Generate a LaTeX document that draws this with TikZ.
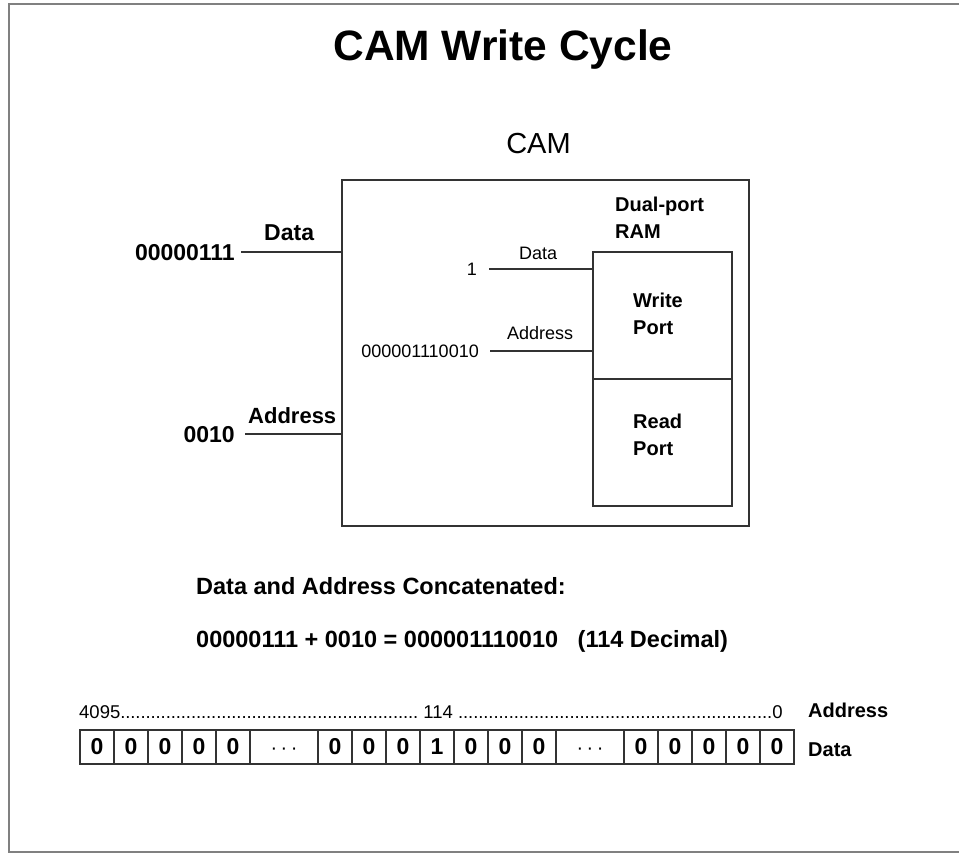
\documentclass[tikz,border=0pt]{standalone}
\usepackage{fontspec}
\setmainfont{Liberation Sans}
\definecolor{wirecol}{HTML}{333333}
\definecolor{framecol}{HTML}{808080}
% three centred dots, given the height of a digit so they sit mid-cell
\newcommand\celldots{\vphantom{0}{\fontsize{20}{24}\selectfont\mdseries·\kern3.5pt·\kern3.5pt·}}
\newcommand\dotrun[1]{\xleaders\hbox to 5pt{\hss.\hss}\hskip 0pt plus #1fil\relax}
\begin{document}
\begin{tikzpicture}[x=1pt,y=-1pt,
  wire/.style={draw=wirecol, line width=1.4pt},
  box/.style={draw=wirecol, line width=1.4pt, inner sep=0pt, outer sep=0pt},
  cell/.style={draw=wirecol, line width=1.2pt, inner sep=0pt, outer sep=0pt,
    minimum height=34pt, font=\fontsize{23}{27}\selectfont\bfseries},
  reg/.style={inner sep=0pt, font=\fontsize{18}{22}\selectfont},
  bold/.style={inner sep=0pt, font=\fontsize{23}{27}\selectfont\bfseries},
  hdr/.style={inner sep=0pt, font=\fontsize{20}{24}\selectfont\bfseries},
  portlbl/.style={inner sep=0pt, align=left, font=\fontsize{20}{27}\selectfont\bfseries},
  sumtxt/.style={inner sep=0pt, font=\fontsize{23.5}{28}\selectfont\bfseries},
]
\useasboundingbox (0,0) rectangle (959,854);
\fill[white] (0,0) rectangle (959,854);
% page frame (open on the right)
\draw[framecol, line width=2.5pt] (962,4) -- (9,4) -- (9,852) -- (962,852);

% headings
\node[inner sep=0pt, font=\fontsize{42.5}{50}\selectfont\bfseries, anchor=base] (title) at (503,60) {CAM Write Cycle};
\node[inner sep=0pt, font=\fontsize{29}{34}\selectfont, anchor=base] (camlbl) at (538.5,153) {CAM};

% CAM block and its dual-port RAM
\node[box, minimum width=407pt, minimum height=346pt] (cam) at (545.5,353) {};
\node[box, minimum width=139pt, minimum height=127pt] (wport) at (662.5,315.5) {};
\node[box, minimum width=139pt, minimum height=127pt] (rport) at (662.5,442.5) {};
\node[portlbl, anchor=north west] (dpram) at (615,197) {Dual-port\\RAM};
\node[portlbl, anchor=north west] (wtxt) at (633,293) {Write\\Port};
\node[portlbl, anchor=north west] (rtxt) at (633,414) {Read\\Port};

% CAM inputs
\node[bold, anchor=base east] (din) at (235,260) {00000111};
\node[bold, anchor=base west] (dinlbl) at (264,240) {Data};
\draw[wire] ([xshift=6pt]din.east) -- (din.east -| cam.west);
\node[bold, anchor=base east] (ain) at (235,442) {0010};
\node[inner sep=0pt, font=\fontsize{22}{26}\selectfont\bfseries, anchor=base west] (ainlbl) at (248,423) {Address};
\draw[wire] ([xshift=10pt]ain.east) -- (ain.east -| cam.west);

% RAM write port inputs
\node[reg, anchor=base east] (one) at (477,275) {1};
\node[reg, anchor=base west] (wdlbl) at (519,259) {Data};
\draw[wire] ([xshift=12pt]one.east) -- (one.east -| wport.west);
\node[reg, anchor=base east] (waddr) at (479,357) {000001110010};
\node[reg, anchor=base west] (walbl) at (507,339) {Address};
\draw[wire] ([xshift=11pt]waddr.east) -- (waddr.east -| wport.west);

% concatenation
\node[sumtxt, anchor=base west] (cat) at (196,594) {Data and Address Concatenated:};
\node[sumtxt, anchor=base west] (sum) at (196,647) {00000111 + 0010 = 000001110010\ \ \ (114 Decimal)};

% memory contents
\node[inner sep=0pt, font=\fontsize{18.5}{22}\selectfont, anchor=base west] (addrrow) at (79,718)
  {\hbox to 703pt{4095\dotrun{294}\ 114\ \dotrun{310}0}};
\node[hdr, anchor=base west] (addrhdr) at (808,717) {Address};
\node[hdr, anchor=base west] (datahdr) at (808,756) {Data};
\foreach \x/\t/\w [count=\i] in {
  80/0/34, 114/0/34, 148/0/34, 182/0/34, 216/0/34, 250/\celldots/68,
  318/0/34, 352/0/34, 386/0/34, 420/1/34, 454/0/34, 488/0/34, 522/0/34, 556/\celldots/68,
  624/0/34, 658/0/34, 692/0/34, 726/0/34, 760/0/34}
  \node[cell, minimum width=\w pt, anchor=west] (c\i) at (\x,747) {\t};
\end{tikzpicture}
\end{document}
